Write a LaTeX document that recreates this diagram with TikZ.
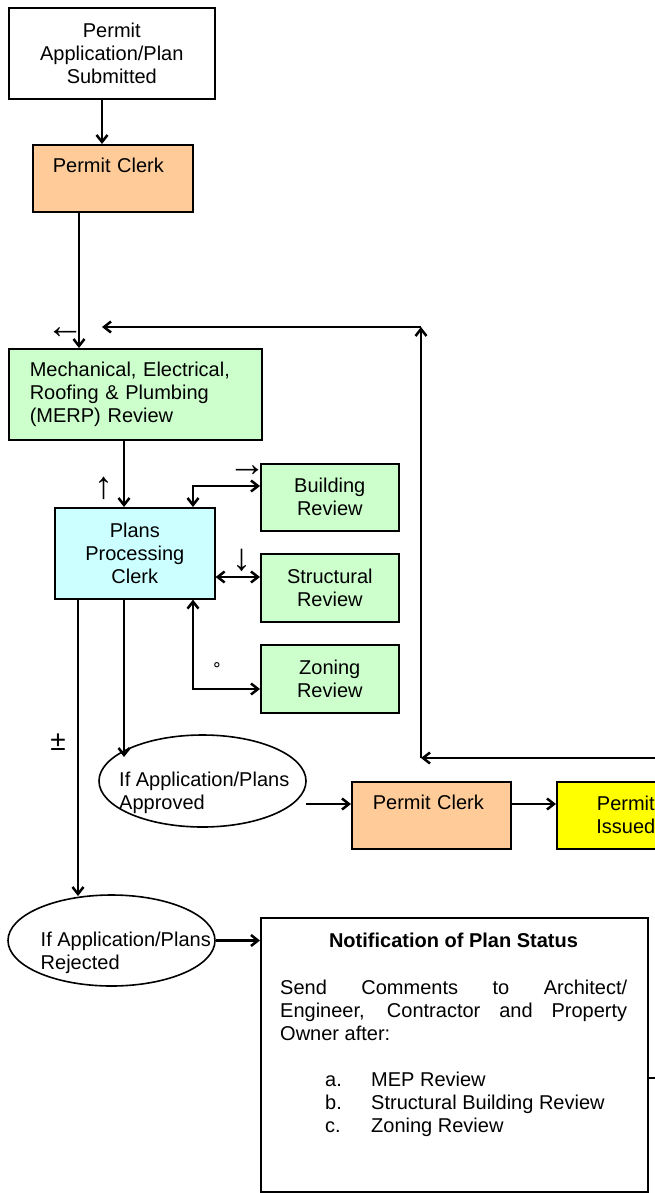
\documentclass[tikz,border=0pt]{standalone}
\usepackage{fontspec}
\setmainfont{Liberation Sans}
\newfontfamily\symfont{DejaVu Sans}
\usetikzlibrary{arrows.meta,shapes.geometric}
\definecolor{peach}{HTML}{FFCC99}
\definecolor{mint}{HTML}{CCFFCC}
\definecolor{aqua}{HTML}{CCFFFF}
\definecolor{sun}{HTML}{FFFF00}
\begin{document}
\begin{tikzpicture}[x=1pt,y=-1pt,
  every node/.style={font=\fontsize{20}{23}\selectfont},
  box/.style={draw, line width=1.6pt, anchor=north west, inner sep=0pt, align=center},
  clerkbox/.style={box, fill=peach, text height=28pt, text depth=39pt, inner xsep=20pt, text width=120pt, align=left},
  ov/.style={draw, ellipse, line width=1.6pt, inner sep=0pt, fill=white},
  conn/.style={line width=2.5pt, -{Straight Barb[length=7pt,width=11pt]}},
  conn2/.style={line width=2.5pt, {Straight Barb[length=7pt,width=11pt]}-{Straight Barb[length=7pt,width=11pt]}},
  glyph/.style={font=\fontsize{38}{38}\selectfont, inner sep=0pt},
]
\useasboundingbox (0,0) rectangle (655,1193);
\fill[white] (0,0) rectangle (655,1193);
\clip (0,0) rectangle (655,1193);

% boxes
\node[box, fill=white, minimum width=206, minimum height=91] (sub) at (8,7) {Permit\\Application/Plan\\Submitted};
\node[clerkbox] (pc1) at (32,144) {Permit Clerk};
\node[box, fill=mint, minimum height=91, inner xsep=21pt, text width=211pt, align=left] (merp) at (8,348)
  {Mechanical, Electrical,\\Roofing \& Plumbing\\(MERP) Review};
\node[box, fill=aqua, minimum width=160, minimum height=91] (ppc) at (54,507) {Plans\\Processing\\Clerk};
\node[box, fill=mint, minimum width=138, minimum height=67] (bld) at (260,463) {Building\\Review};
\node[box, fill=mint, minimum width=138, minimum height=68] (str) at (260,553) {Structural\\Review};
\node[box, fill=mint, minimum width=138, minimum height=68] (zon) at (260,644) {Zoning\\Review};
\node[ov, minimum width=207, minimum height=92] (appr) at (202.5,781) {};
\node[anchor=base west, align=left, inner sep=0pt] (apprtext) at (119,809) {If Application/Plans\\Approved};
\node[clerkbox, inner xsep=21pt, text width=117pt] (pc2) at (351,781) {Permit Clerk};
\node[box, fill=sun, minimum width=138, minimum height=67] (iss) at (556,781) {Permit\\Issued};
\node[ov, minimum width=207, minimum height=91] (rej) at (111.5,940.5) {};
\node[anchor=base west, align=left, inner sep=0pt] (rejtext) at (40.5,969) {If Application/Plans\\Rejected};
\node[box, fill=white, minimum width=387, minimum height=274] (notif) at (260,917) {};
\node[anchor=base, inner sep=0pt, font=\fontsize{20}{23}\selectfont\bfseries] (title) at (453.5,947) {Notification of Plan Status};
\node[anchor=base west, align=left, inner sep=0pt] (para) at (280,1040)
  {\makebox[347pt][s]{Send Comments to Architect/}\\
   \makebox[347pt][s]{Engineer, Contractor and Property}\\
   Owner after:};
\node[anchor=base west, align=left, inner sep=0pt] (list) at (325,1132)
  {\makebox[46pt][l]{a.}MEP Review\\
   \makebox[46pt][l]{b.}Structural Building Review\\
   \makebox[46pt][l]{c.}Zoning Review};

% stray glyphs
\node[glyph] (g1) at (65,333) {←};
\node[glyph] (g2) at (104,488) {↑};
\node[glyph] (g3) at (247,471) {→};
\node[glyph] (g4) at (242,560) {↓};
\node[inner sep=0pt, font=\symfont\fontsize{17}{17}\selectfont] (g5) at (217,667) {∘};
\node[inner sep=0pt, font=\fontsize{28}{28}\selectfont] (g6) at (58,742) {±};

% connectors
\coordinate (xA) at (102,0);
\coordinate (xB) at (79,0);
\coordinate (xC) at (124,0);
\coordinate (xD) at (193,0);
\coordinate (xE) at (78,0);
\coordinate (yBld) at (0,486);
\coordinate (yStr) at (0,577);
\coordinate (yZon) at (0,689);
\draw[conn] (sub.south -| xA) -- (pc1.north -| xA);
\draw[conn] (pc1.south -| xB) -- (merp.north -| xB);
\draw[conn] (merp.south -| xC) -- (ppc.north -| xC);
\draw[conn2] (ppc.north -| xD) |- (bld.west |- yBld);
\draw[conn2] (ppc.east |- yStr) -- (str.west |- yStr);
\draw[conn2] (ppc.south -| xD) |- (zon.west |- yZon);
\coordinate (apprIn) at (124,757);
\draw[conn] (ppc.south -| xC) -- (apprIn);
\coordinate (rejIn) at (78,896);
\draw[conn] (ppc.south -| xE) -- (rejIn);
\coordinate (apprOut) at (306,804);
\draw[conn] (apprOut) -- (pc2.west |- apprOut);
\draw[conn] (pc2.east |- apprOut) -- (iss.west |- apprOut);
\draw[conn] (rej.east) -- (notif.west |- rej.east);
\coordinate (loopR) at (700,758);
\coordinate (loopB) at (421,758);
\coordinate (loopT) at (421,327);
\coordinate (merpIn) at (102,327);
\draw[conn] (loopR) -- (loopB);
\draw[conn] (loopB) -- (loopT);
\draw[conn] (loopT) -- (merpIn);
\coordinate (notifOut) at (700,1078);
\draw[line width=2.5pt] (notif.east |- notifOut) -- (notifOut);
\end{tikzpicture}
\end{document}
